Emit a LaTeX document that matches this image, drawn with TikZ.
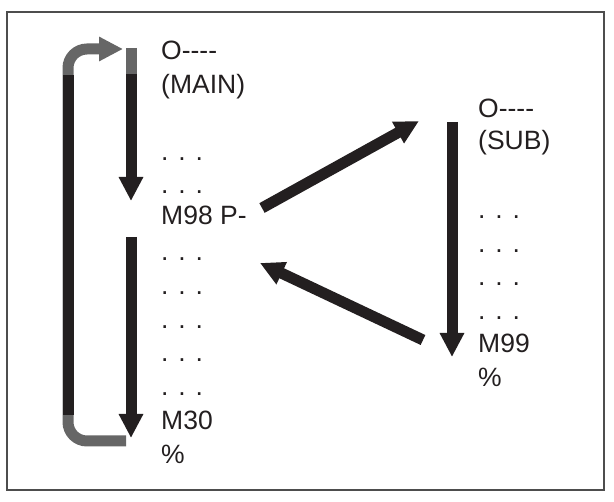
\documentclass[tikz,border=0pt]{standalone}
\usepackage{fontspec}
\setmainfont{Liberation Sans}
\usetikzlibrary{arrows.meta}
\definecolor{progdark}{HTML}{231F20}
\definecolor{proggray}{HTML}{666666}
\definecolor{progframe}{HTML}{4D4D4D}
\newcommand{\prognum}{O{-}{-}{-}{-}}
\tikzset{
  codeline/.style={anchor=base west, inner sep=0pt, text=progdark,
                   font=\fontsize{26.5}{30}\selectfont},
  flow/.style={-{Triangle[length=24pt, width=23pt]}, line width=11pt, color=progdark},
  flowbar/.style={line width=11pt, color=progdark},
  loopback/.style={line width=11pt, color=proggray},
}

\begin{document}
\begin{tikzpicture}[x=1pt, y=-1pt]
\useasboundingbox (0,0) rectangle (614,502);
\draw[progframe, line width=2pt] (7,12) rectangle (604,490);

% main program
\node[codeline] (mhead) at (161,60) {\prognum};
\node[codeline] (mname) at (161,93.5) {(MAIN)};
\node[codeline] (mdotsa) at (161,160.5) {. . .};
\node[codeline] (mdotsb) at (161,194) {. . .};
\node[codeline] (mcall) at (161,225) {M98 P-};
\foreach \i/\y in {c/261,d/295,e/329,f/362,g/396}
  \node[codeline] (mdots\i) at (161,\y) {. . .};
\node[codeline] (mend) at (161,430) {M30};
\node[codeline] (mpct) at (161,463.5) {\%};

% sub program
\node[codeline] (shead) at (478,118) {\prognum};
\node[codeline] (sname) at (478,150) {(SUB)};
\foreach \i/\y in {a/218.5,b/252.5,c/285.5,d/319.5}
  \node[codeline] (sdots\i) at (478,\y) {. . .};
\node[codeline] (send) at (478,353) {M99};
\node[codeline] (spct) at (478,387) {\%};

% arrow ends
\coordinate (mtop) at (131,48);
\coordinate (mgray) at (131,74);
\coordinate (mstop) at (131,201);
\coordinate (mrun) at (131,237);
\coordinate (mlast) at (131,438);
\coordinate (calltail) at (262,208);
\coordinate (subin) at (419,121);
\coordinate (subtop) at (452,122);
\coordinate (subend) at (452,357);
\coordinate (rettail) at (423,340);
\coordinate (retin) at (260,263);
\coordinate (loopfoot) at (126,441);
\coordinate (loopa) at (68,441);
\coordinate (loopb) at (68,49);
\coordinate (loophead) at (123,49);
\coordinate (barlow) at (68,415);
\coordinate (barhigh) at (68,75);

% main flow
\draw[loopback] (mtop) -- (mgray);
\draw[flow] (mgray) -- (mstop);
\draw[flow] (mrun) -- (mlast);

% jump to M30 back to start
\draw[loopback, -{Triangle[length=24pt, width=23pt]}, rounded corners=19pt]
  (loopfoot) -- (loopa) -- (loopb) -- (loophead);
\draw[flowbar] (barlow) -- (barhigh);

% call and return
\draw[flow] (calltail) -- (subin);
\draw[flow] (subtop) -- (subend);
\draw[flow] (rettail) -- (retin);
\end{tikzpicture}
\end{document}
